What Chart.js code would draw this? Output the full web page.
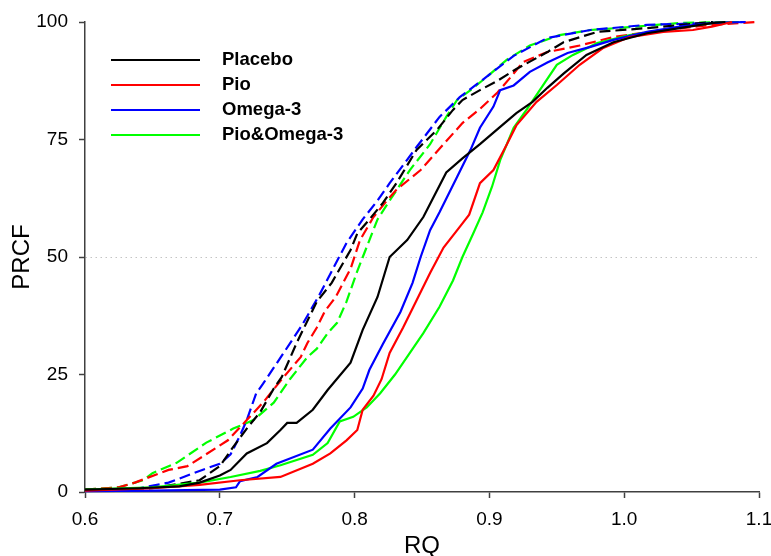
<!DOCTYPE html>
<html>
<head>
<meta charset="utf-8">
<title>PRCF vs RQ</title>
<script src="https://cdn.jsdelivr.net/npm/chart.js@4.4.1/dist/chart.umd.min.js"></script>
<style>
  html, body { margin:0; padding:0; background:#fff; overflow:hidden; }
  #wrap { width:771px; height:556px; overflow:hidden; }
</style>
</head>
<body>
<div id="wrap"><canvas id="prcfChart" width="771" height="570"></canvas></div>
<script>
// groups (legend only shows the four solid ones)
const groups = ['Placebo', 'Pio', 'Omega-3', 'Pio&Omega-3'];
const xTicks = [0.6, 0.7, 0.8, 0.9, 1.0, 1.1];
const yTicks = [0, 25, 50, 75, 100];

/* ====== solid curves ====== */
const placeboX = [0.600,0.640,0.670,0.685,0.700,0.708,0.720,0.735,0.745,0.750,0.757,0.769,0.780,0.797,0.806,0.817,0.826,0.839,0.851,0.868,0.880,0.893,0.908,0.920,0.932,0.943,0.955,0.972,0.992,1.017,1.041,1.066,1.075];
const placeboY = [0.5,0.8,1.2,2,3.5,4.7,8.2,10.4,13.2,14.7,14.7,17.5,21.7,27.5,34.5,41.5,50,53.6,58.5,68,71,74,77.7,80.6,83,86,89,93,95.7,97.6,98.7,99.8,100];

const pioX = [0.600,0.650,0.685,0.715,0.745,0.769,0.782,0.794,0.802,0.806,0.814,0.820,0.826,0.836,0.846,0.856,0.866,0.878,0.885,0.893,0.903,0.913,0.920,0.935,0.950,0.967,0.984,1.004,1.029,1.051,1.065,1.080];
const pioY = [0.3,0.8,1.5,2.5,3.2,6,8.2,11,13.2,17.5,20.5,24,29.6,35,40.8,46.6,52,56.4,59,65.7,68.5,74,78,83,86.6,90.9,94.4,96.8,97.9,98.3,99,100];

const omegaX = [0.600,0.650,0.700,0.712,0.715,0.728,0.742,0.769,0.782,0.797,0.806,0.811,0.821,0.834,0.843,0.849,0.856,0.863,0.876,0.886,0.893,0.903,0.908,0.918,0.930,0.943,0.958,0.975,0.992,1.017,1.041,1.066,1.090];
const omegaY = [0.2,0.3,0.5,1,2.3,3.2,6,9,13.5,18,22,26,31.5,38.3,44.5,50,55.7,59.5,67,72.8,77.5,82,85.5,86.5,89.4,91.4,93.4,94.7,96.2,97.9,99,99.8,100];

const pioOmegaX = [0.600,0.650,0.685,0.708,0.730,0.745,0.769,0.780,0.789,0.799,0.809,0.819,0.830,0.841,0.851,0.863,0.873,0.880,0.888,0.895,0.902,0.908,0.918,0.928,0.935,0.950,0.962,0.980,1.004,1.029,1.066,1.085];
const pioOmegaY = [0.5,1,2,3.2,4.5,5.7,7.9,10.4,15,16,18,21,25,29.6,33.8,39.4,45,50,55,59.5,65,70.6,77.5,81.5,84.5,90.9,93,95.5,97.2,98.3,99.8,100];

/* ====== dashed curves ====== */
const placeboDX = [0.600,0.650,0.685,0.700,0.710,0.720,0.730,0.740,0.746,0.757,0.766,0.772,0.783,0.797,0.802,0.811,0.821,0.831,0.846,0.861,0.873,0.880,0.893,0.906,0.920,0.943,0.955,0.980,1.017,1.066];
const placeboDY = [0.5,0.8,2.5,5.5,9.6,13.5,17,22,24.5,31.7,37,40.5,44.5,51.5,55,58,61.5,65.7,72.8,77,81.3,83.4,85.5,87.5,90,93.6,95.7,97.9,98.7,100];

const pioDX = [0.600,0.625,0.637,0.662,0.676,0.687,0.706,0.720,0.732,0.746,0.760,0.765,0.772,0.778,0.786,0.797,0.804,0.814,0.824,0.831,0.849,0.866,0.880,0.893,0.906,0.915,0.925,0.943,0.967,0.992,1.029,1.066,1.098];
const pioDY = [0.5,1,2,4.7,5.5,7.5,11,15.3,19,24,28.7,31.7,35,38.5,41.5,47.5,53.6,58.5,62,64.3,68.5,74,78.5,81.5,85,88,91.5,93.6,95,96.8,98.3,99.4,100];

const omegaDX = [0.600,0.640,0.662,0.687,0.700,0.708,0.715,0.720,0.727,0.732,0.746,0.761,0.774,0.784,0.794,0.806,0.817,0.826,0.846,0.863,0.878,0.895,0.918,0.943,0.975,1.017,1.090];
const omegaDY = [0.5,0.8,2,4.7,6,8,12,15.3,21,23,29,35.5,42,47.5,53,58,62,65.7,73.4,79.8,84,87.7,92.8,96.6,98.3,99.4,100];

const pioOmegaDX = [0.600,0.625,0.643,0.650,0.668,0.690,0.710,0.725,0.740,0.752,0.765,0.772,0.780,0.787,0.794,0.802,0.811,0.817,0.826,0.841,0.856,0.868,0.876,0.886,0.898,0.913,0.930,0.952,0.975,1.004,1.041,1.084];
const pioOmegaDY = [0.5,1,2.5,4,6.2,10.5,13.5,15.3,19,24,28.7,30.5,33.8,36,40.5,47,53.6,58,62,68.5,74,79.8,83.4,85.5,88.3,92,95,97.2,98.3,98.9,99.8,100];

const lineColors = ['#000000', '#ff0000', '#0000ff', '#00ff00'];
const axisColor = '#404040';
const fontFamily = '"Liberation Sans", Arial, sans-serif';

function toPoints(xs, ys){
  return xs.map((x, i) => ({ x, y: ys[i] }));
}

function makeDataset(name, idx, xs, ys, dashed){
  return {
    label: name,
    data: toPoints(xs, ys),
    borderColor: lineColors[idx],
    backgroundColor: lineColors[idx],
    borderWidth: 2.2,
    borderDash: dashed ? [11, 5] : [],
    pointRadius: 0,
    tension: 0,
    fill: false,
    clip: 4
  };
}

const datasets = [
  makeDataset(groups[0], 0, placeboX, placeboY, false),
  makeDataset(groups[1], 1, pioX, pioY, false),
  makeDataset(groups[2], 2, omegaX, omegaY, false),
  makeDataset(groups[3], 3, pioOmegaX, pioOmegaY, false),
  makeDataset(groups[0], 0, placeboDX, placeboDY, true),
  makeDataset(groups[1], 1, pioDX, pioDY, true),
  makeDataset(groups[2], 2, omegaDX, omegaDY, true),
  makeDataset(groups[3], 3, pioOmegaDX, pioOmegaDY, true),
];

/* ====== legend inside plot ====== */
const insideLegend = {
  id: 'insideLegend',
  afterDatasetsDraw(chart){
    const { ctx, chartArea } = chart;
    ctx.save();
    ctx.font = `bold 18.5px ${fontFamily}`;
    ctx.textBaseline = 'middle';
    ctx.textAlign = 'left';
    groups.forEach((name, i) => {
      const y = chartArea.top + 38 + i * 25;
      ctx.strokeStyle = lineColors[i];
      ctx.lineWidth = 2.2;
      ctx.setLineDash([]);
      ctx.beginPath();
      ctx.moveTo(chartArea.left + 26, y);
      ctx.lineTo(chartArea.left + 115, y);
      ctx.stroke();
      ctx.fillStyle = '#000';
      ctx.fillText(name, chartArea.left + 137, y);
    });
    ctx.restore();
  }
};

const ctx = document.getElementById('prcfChart').getContext('2d');
new Chart(ctx, {
  type: 'line',
  data: { datasets },
  plugins: [insideLegend],
  options: {
    responsive: false,
    animation: false,
    devicePixelRatio: 1,
    layout: { padding: { top: 22, right: 12, left: 0, bottom: 0 } },
    plugins: { legend: { display: false }, tooltip: { enabled: false } },
    scales: {
      x: {
        type: 'linear',
        min: 0.6, max: 1.1,
        afterBuildTicks: s => { s.ticks = xTicks.map(v => ({ value: v })); },
        afterFit: s => { s.height = 78; s.paddingLeft = 0; s.paddingRight = 0; },
        grid: { drawOnChartArea: false, tickLength: 6, tickColor: axisColor, tickWidth: 1.5 },
        border: { color: axisColor, width: 1.5 },
        ticks: {
          padding: 10, color: '#000', maxRotation: 0,
          font: { family: fontFamily, size: 19 },
          callback: v => Number(v).toFixed(1)
        },
        title: {
          display: true, text: 'RQ', color: '#000',
          font: { family: fontFamily, size: 24 },
          padding: { top: 0, bottom: 9 }
        }
      },
      y: {
        min: 0, max: 100,
        afterBuildTicks: s => { s.ticks = yTicks.map(v => ({ value: v })); },
        afterFit: s => { s.width = 85; s.paddingTop = 0; s.paddingBottom = 0; },
        grid: {
          color: c => (c.tick && c.tick.value === 50) ? '#c4c4c4' : 'rgba(0,0,0,0)',
          lineWidth: 1,
          tickLength: 6, tickColor: axisColor, tickWidth: 1.5
        },
        border: { color: axisColor, width: 1.5, dash: [1.5, 3.5] },
        ticks: {
          padding: 11, color: '#000',
          font: { family: fontFamily, size: 19 }
        },
        title: {
          display: true, text: 'PRCF', color: '#000',
          font: { family: fontFamily, size: 24 },
          padding: { top: 8, bottom: 0 }
        }
      }
    }
  }
});
</script>
</body>
</html>
